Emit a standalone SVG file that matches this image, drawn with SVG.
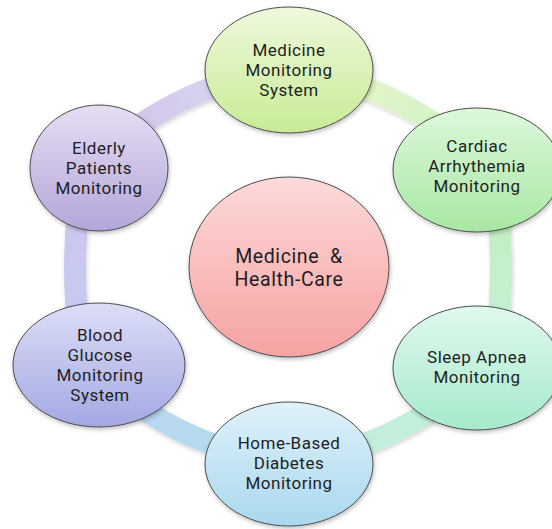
<svg xmlns="http://www.w3.org/2000/svg" width="552" height="529" viewBox="0 0 552 529">
  <defs>
    <style>
      .node { stroke: #4d4d4d; stroke-width: 1; filter: url(#shadow); }
      .ring { fill: none; stroke-width: 22; stroke-linecap: butt; }
      .lbl { font-family: Roboto, "Liberation Sans", "DejaVu Sans", sans-serif; font-size: 17px; letter-spacing: 0.5px; fill: #1e1e1e; text-anchor: middle; }
      .big { font-size: 19.5px; letter-spacing: 0.6px; }
    </style>
    <filter id="shadow" x="-20%" y="-20%" width="140%" height="140%">
      <feDropShadow dx="1" dy="2" stdDeviation="2" flood-color="#000" flood-opacity="0.25"/>
    </filter>
    <filter id="soft" filterUnits="userSpaceOnUse" x="0" y="0" width="552" height="529">
      <feDropShadow dx="1" dy="2" stdDeviation="2" flood-color="#000" flood-opacity="0.18"/>
    </filter>

    <!-- node fills: light at the top, deeper at the bottom -->
    <linearGradient id="gTop" x1="0" y1="0" x2="0" y2="1">
      <stop offset="0" stop-color="#eef9dc"/><stop offset="1" stop-color="#c8eb96"/>
    </linearGradient>
    <linearGradient id="gCardiac" x1="0" y1="0" x2="0" y2="1">
      <stop offset="0" stop-color="#def8dc"/><stop offset="1" stop-color="#a8e7a2"/>
    </linearGradient>
    <linearGradient id="gSleep" x1="0" y1="0" x2="0" y2="1">
      <stop offset="0" stop-color="#e0f9ee"/><stop offset="1" stop-color="#a6eacb"/>
    </linearGradient>
    <linearGradient id="gHome" x1="0" y1="0" x2="0" y2="1">
      <stop offset="0" stop-color="#e0f1fa"/><stop offset="1" stop-color="#a9d8ee"/>
    </linearGradient>
    <linearGradient id="gBlood" x1="0" y1="0" x2="0" y2="1">
      <stop offset="0" stop-color="#dcdef6"/><stop offset="1" stop-color="#a3a8e3"/>
    </linearGradient>
    <linearGradient id="gElderly" x1="0" y1="0" x2="0" y2="1">
      <stop offset="0" stop-color="#e6def3"/><stop offset="1" stop-color="#b4a5da"/>
    </linearGradient>
    <linearGradient id="gCenter" x1="0" y1="0" x2="0" y2="1">
      <stop offset="0" stop-color="#fdd9d9"/><stop offset="1" stop-color="#f6a2a2"/>
    </linearGradient>

    <!-- ring segment fills, blending from one node hue to the next -->
    <linearGradient id="rTR" gradientUnits="userSpaceOnUse" x1="340" y1="80" x2="450" y2="135">
      <stop offset="0" stop-color="#e6f6c8"/><stop offset="1" stop-color="#d2f2c8"/>
    </linearGradient>
    <linearGradient id="rR" gradientUnits="userSpaceOnUse" x1="0" y1="200" x2="0" y2="336">
      <stop offset="0" stop-color="#c3efc2"/><stop offset="1" stop-color="#c4f0d4"/>
    </linearGradient>
    <linearGradient id="rBR" gradientUnits="userSpaceOnUse" x1="450" y1="397" x2="340" y2="452">
      <stop offset="0" stop-color="#bfefd6"/><stop offset="1" stop-color="#c6eedf"/>
    </linearGradient>
    <linearGradient id="rBL" gradientUnits="userSpaceOnUse" x1="126" y1="397" x2="236" y2="452">
      <stop offset="0" stop-color="#bcd6f0"/><stop offset="1" stop-color="#b2dcec"/>
    </linearGradient>
    <linearGradient id="rL" gradientUnits="userSpaceOnUse" x1="0" y1="200" x2="0" y2="336">
      <stop offset="0" stop-color="#cbc8ee"/><stop offset="1" stop-color="#c5caef"/>
    </linearGradient>
    <linearGradient id="rTL" gradientUnits="userSpaceOnUse" x1="126" y1="135" x2="236" y2="80">
      <stop offset="0" stop-color="#cfc4ea"/><stop offset="1" stop-color="#dcd6f0"/>
    </linearGradient>
  </defs>

  <rect width="552" height="529" fill="#ffffff"/>

  <!-- ring segments joining the outer nodes -->
  <g id="connectors" filter="url(#soft)">
    <path class="ring" stroke="url(#rTR)" d="M 340 80 Q 400 97 450 135"/>
    <path class="ring" stroke="url(#rR)" d="M 497 200 Q 505 268 497 336"/>
    <path class="ring" stroke="url(#rBR)" d="M 450 397 Q 400 435 340 452"/>
    <path class="ring" stroke="url(#rBL)" d="M 126 397 Q 176 435 236 452"/>
    <path class="ring" stroke="url(#rL)" d="M 79 200 Q 71 268 79 336"/>
    <path class="ring" stroke="url(#rTL)" d="M 126 135 Q 176 97 236 80"/>
  </g>

  <g id="node-center">
    <ellipse class="node" cx="289" cy="267" rx="100" ry="90" fill="url(#gCenter)"/>
    <text class="lbl big" x="289" y="262.5">Medicine&#160; &amp;</text>
    <text class="lbl big" x="289" y="285.5">Health-Care</text>
  </g>

  <g id="node-medicine-monitoring">
    <ellipse class="node" cx="289" cy="70" rx="84" ry="63" fill="url(#gTop)"/>
    <text class="lbl" x="289" y="56">Medicine</text>
    <text class="lbl" x="289" y="76">Monitoring</text>
    <text class="lbl" x="289" y="96">System</text>
  </g>

  <g id="node-cardiac">
    <ellipse class="node" cx="477" cy="170" rx="84" ry="62" fill="url(#gCardiac)"/>
    <text class="lbl" x="477" y="152">Cardiac</text>
    <text class="lbl" x="477" y="172">Arrhythemia</text>
    <text class="lbl" x="477" y="192">Monitoring</text>
  </g>

  <g id="node-sleep-apnea">
    <ellipse class="node" cx="477" cy="368" rx="84" ry="62" fill="url(#gSleep)"/>
    <text class="lbl" x="477" y="363">Sleep Apnea</text>
    <text class="lbl" x="477" y="383">Monitoring</text>
  </g>

  <g id="node-home-diabetes">
    <ellipse class="node" cx="289" cy="464" rx="84" ry="62" fill="url(#gHome)"/>
    <text class="lbl" x="289" y="449">Home-Based</text>
    <text class="lbl" x="289" y="469">Diabetes</text>
    <text class="lbl" x="289" y="489">Monitoring</text>
  </g>

  <g id="node-blood-glucose">
    <ellipse class="node" cx="99" cy="365" rx="86" ry="62" fill="url(#gBlood)"/>
    <text class="lbl" x="100" y="341">Blood</text>
    <text class="lbl" x="100" y="361">Glucose</text>
    <text class="lbl" x="100" y="381">Monitoring</text>
    <text class="lbl" x="100" y="401">System</text>
  </g>

  <g id="node-elderly">
    <ellipse class="node" cx="99" cy="168" rx="69" ry="63" fill="url(#gElderly)"/>
    <text class="lbl" x="99" y="154">Elderly</text>
    <text class="lbl" x="99" y="174">Patients</text>
    <text class="lbl" x="99" y="194">Monitoring</text>
  </g>
</svg>
